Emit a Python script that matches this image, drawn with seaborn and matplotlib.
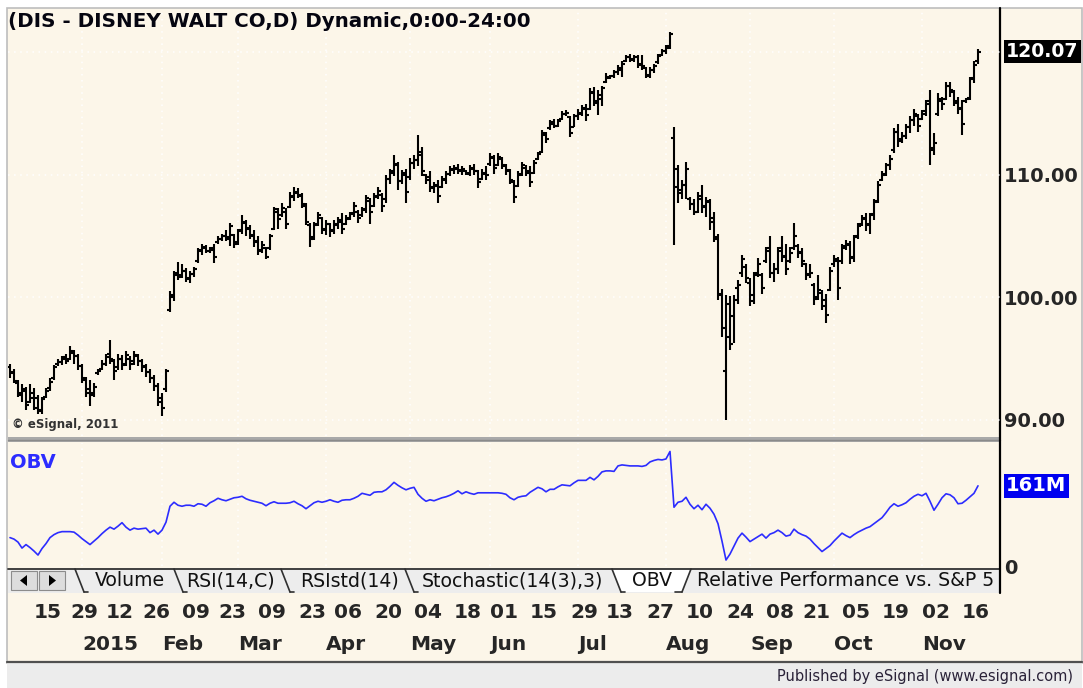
import numpy as np
import pandas as pd
import matplotlib
matplotlib.use("Agg")
import matplotlib.pyplot as plt
import matplotlib.transforms as mtransforms
from matplotlib.patches import Rectangle, Polygon
import seaborn as sns

sns.set_theme(style="white")
plt.rcParams["font.family"] = ["DejaVu Sans"]

# ---- data (DIS daily, Dec 2014 - Nov 2015) ----
last_day = "2015-11-20"
holidays = ["2014-12-25", "2015-01-01", "2015-01-19", "2015-02-16", "2015-04-03",
            "2015-05-25", "2015-07-03", "2015-09-07", "2015-11-26"]

highs = [94.6, 94.2, 93.3, 92.9, 92.7, 92.9, 92.6, 92.0, 91.9, 92.6, 93.4, 94.5, 95.0, 95.2, 95.4, 96.0,
         95.7, 95.4, 94.6, 93.5, 93.3, 93.0, 94.2, 94.9, 95.4, 96.5, 95.0, 95.4, 95.3, 95.6, 95.2, 95.6,
         95.4, 95.0, 94.6, 94.2, 93.7, 93.0, 92.2, 94.2,
         100.5, 102.2, 102.9, 102.7, 102.4, 102.2, 102.5, 104.0, 104.4, 104.3, 104.1, 104.4, 105.0, 105.2,
         105.5, 106.1, 105.2, 105.6, 106.7, 106.3, 105.9, 105.5, 105.0, 104.6, 104.1, 105.2, 107.4, 107.3,
         107.7, 107.3, 108.6, 109.0, 108.9, 108.5, 107.7, 106.1, 106.2, 107.0, 106.6, 106.3, 106.1, 106.3,
         106.6, 106.9, 106.7, 107.0, 107.8, 107.1, 107.4, 108.4, 108.1, 108.5, 109.0, 108.5, 110.0, 110.5,
         111.6, 111.1, 110.4, 110.5, 111.4, 111.6, 113.3, 112.3, 110.1, 110.3, 109.4, 109.6, 109.9, 110.3,
         110.7, 110.8, 110.9, 110.7, 110.4, 110.8, 110.9, 110.4, 110.5, 110.7, 111.8, 111.6, 111.8, 111.5,
         110.9, 110.5, 109.6, 110.3, 111.1, 110.8, 110.7, 111.2, 111.9, 113.7, 113.5, 114.5, 114.6, 114.6,
         115.2, 115.3, 114.8, 115.0, 115.4, 115.7, 115.8, 117.1, 117.2, 116.9, 117.3, 118.3, 118.2, 118.6,
         119.0, 119.3, 119.8, 119.9, 119.8, 119.8, 119.8, 118.8, 118.8, 119.1, 119.9, 120.3, 120.6, 121.7,
         113.9, 110.8, 109.6, 111.1, 108.2, 108.0, 108.6, 109.2, 108.2, 108.0, 107.0, 105.2, 100.7, 100.2,
         100.1, 100.2, 101.4, 103.5, 102.7, 101.6, 102.1, 103.2, 102.0, 104.1, 105.0, 102.8, 104.1, 105.0,
         104.4, 104.1, 106.1, 104.4, 104.0, 102.8, 102.7, 101.2, 101.8, 100.6, 100.3, 102.5, 103.5, 103.3,
         104.4, 104.7, 104.6, 105.1, 106.1, 106.7, 106.9, 106.9, 108.0, 109.5, 110.3, 111.0, 111.6, 113.8,
         114.2, 113.5, 114.2, 114.8, 115.4, 115.0, 115.3, 116.1, 116.9, 113.4, 116.7, 116.4, 117.6, 117.6,
         116.9, 116.4, 116.1, 116.3, 118.0, 119.3, 120.3]

lows = [93.4, 93.0, 91.9, 91.5, 90.8, 91.4, 90.8, 90.5, 90.5, 91.8, 92.4, 93.3, 94.4, 94.5, 94.6, 94.9,
        94.6, 94.1, 93.0, 91.9, 91.1, 91.9, 93.7, 94.1, 94.4, 94.6, 93.3, 94.1, 94.1, 94.4, 94.1, 94.5,
        94.4, 93.9, 93.5, 93.0, 92.4, 91.1, 90.3, 92.3,
        98.8, 99.7, 101.4, 101.6, 101.3, 101.2, 101.7, 102.8, 103.5, 103.6, 103.6, 102.8, 104.4, 104.6,
        104.6, 104.2, 104.0, 104.3, 105.2, 105.0, 104.8, 104.1, 103.5, 103.6, 103.1, 103.9, 105.5, 105.6,
        106.6, 105.6, 107.3, 107.9, 108.1, 107.3, 105.9, 104.1, 104.7, 105.8, 105.2, 105.1, 104.9, 105.2,
        105.6, 105.2, 105.9, 106.3, 106.6, 106.1, 106.6, 106.9, 106.0, 107.4, 108.0, 107.0, 107.7, 109.3,
        109.9, 108.8, 109.3, 107.7, 109.6, 110.5, 110.7, 109.9, 109.3, 108.6, 108.5, 107.7, 108.9, 109.3,
        109.9, 110.1, 110.1, 110.0, 110.0, 109.9, 110.0, 108.9, 109.6, 109.6, 110.7, 110.1, 110.7, 110.5,
        110.0, 109.3, 107.7, 109.0, 109.9, 109.9, 109.0, 110.1, 111.2, 111.8, 112.6, 113.7, 113.8, 113.9,
        114.5, 114.8, 113.1, 113.9, 114.5, 114.8, 114.4, 115.3, 115.6, 114.9, 115.6, 117.5, 117.8, 117.9,
        118.2, 118.0, 119.2, 119.2, 119.2, 118.7, 118.6, 117.9, 117.9, 118.3, 119.1, 119.7, 119.9, 120.3,
        104.3, 107.7, 108.0, 108.0, 107.1, 106.7, 106.9, 106.9, 106.6, 105.5, 104.5, 99.8, 96.8, 90.0,
        95.7, 96.3, 99.5, 101.7, 101.2, 99.3, 99.5, 101.7, 100.3, 102.8, 101.6, 101.3, 101.9, 102.9,
        101.8, 102.8, 103.9, 103.2, 102.5, 101.4, 101.6, 99.4, 99.8, 99.0, 97.9, 100.5, 102.5, 99.8,
        102.7, 103.9, 102.7, 102.9, 104.8, 105.8, 105.4, 105.2, 106.3, 107.7, 109.5, 109.9, 110.4, 111.8,
        112.3, 112.6, 112.9, 113.4, 114.0, 113.5, 114.5, 114.8, 110.8, 111.6, 114.8, 115.3, 116.1, 116.4,
        115.6, 115.0, 113.3, 115.9, 116.1, 117.5, 119.1]

opens = [94.3, 93.9, 93.0, 92.0, 92.5, 91.5, 92.2, 91.8, 90.7, 91.9, 92.6, 93.4, 94.6, 94.7, 95.1, 95.0,
         95.5, 95.2, 94.4, 93.3, 92.5, 92.2, 93.8, 94.2, 94.6, 95.4, 94.8, 94.3, 95.0, 94.6, 95.0, 94.8,
         95.2, 94.8, 94.4, 93.9, 93.4, 92.8, 91.8, 92.5,
         99.0, 100.0, 102.0, 101.8, 102.2, 101.5, 101.9, 103.0, 103.9, 104.1, 103.8, 103.9, 104.5, 104.8,
         105.0, 104.8, 105.1, 104.5, 105.5, 106.1, 105.7, 105.1, 104.6, 103.9, 104.0, 104.0, 105.6, 107.0,
         106.7, 107.0, 107.4, 108.2, 108.6, 108.3, 107.5, 105.9, 104.9, 106.0, 106.5, 105.5, 106.0, 105.5,
         105.9, 106.3, 106.0, 106.5, 106.9, 107.0, 106.7, 107.1, 107.9, 107.5, 108.3, 108.4, 108.0, 109.7,
         110.3, 110.9, 109.5, 110.2, 109.8, 111.0, 111.2, 111.9, 110.0, 109.8, 109.0, 109.2, 109.0, 109.6,
         110.1, 110.4, 110.5, 110.3, 110.3, 110.1, 110.5, 110.3, 109.7, 110.1, 110.9, 111.4, 110.8, 111.3,
         110.7, 110.4, 109.4, 109.1, 110.1, 110.6, 110.3, 110.2, 111.3, 111.9, 113.3, 113.8, 114.2, 114.0,
         114.6, 115.0, 114.7, 113.9, 114.8, 115.0, 115.5, 115.4, 116.7, 116.0, 116.2, 117.6, 117.9, 118.1,
         118.4, 118.6, 119.3, 119.6, 119.4, 119.6, 119.1, 118.7, 118.1, 118.6, 119.2, 119.8, 120.1, 120.5,
         113.0, 109.0, 108.8, 109.2, 108.0, 107.6, 107.0, 108.0, 107.5, 107.8, 106.5, 104.9, 100.2, 94.0,
         99.5, 98.5, 100.8, 102.0, 102.5, 101.2, 100.2, 102.0, 101.8, 103.0, 104.0, 102.0, 102.3, 104.0,
         103.3, 103.0, 104.0, 104.2, 103.7, 102.7, 101.8, 101.0, 100.0, 100.4, 99.8, 100.6, 102.7, 103.0,
         103.0, 104.2, 104.3, 103.3, 105.0, 106.0, 106.4, 106.0, 106.8, 107.9, 109.6, 110.1, 110.8, 112.0,
         113.5, 112.9, 113.2, 113.9, 114.5, 114.8, 114.6, 115.2, 116.0, 112.2, 115.0, 116.0, 116.2, 117.3,
         116.8, 116.0, 115.5, 116.0, 116.3, 117.9, 119.3]

closes = [93.8, 93.2, 92.2, 92.4, 91.2, 91.8, 91.0, 90.8, 91.7, 92.4, 93.1, 94.3, 94.7, 95.0, 94.8, 95.6,
          95.2, 94.4, 93.4, 92.2, 92.0, 92.7, 94.0, 94.6, 95.1, 95.0, 94.0, 95.0, 94.5, 95.3, 94.6, 95.3,
          94.8, 94.3, 93.9, 93.4, 92.8, 91.5, 91.0, 94.0,
          100.2, 101.8, 101.7, 102.2, 101.6, 101.9, 102.3, 103.8, 104.0, 103.8, 104.0, 103.3, 104.8, 105.0,
          104.9, 105.8, 104.4, 105.4, 106.2, 105.6, 105.0, 104.5, 103.8, 104.3, 103.3, 105.0, 107.2, 106.4,
          107.3, 106.0, 108.3, 108.5, 108.4, 107.6, 106.2, 104.8, 105.9, 106.7, 105.6, 106.0, 105.4, 106.0,
          106.2, 105.6, 106.4, 106.8, 107.5, 106.5, 107.2, 108.1, 107.0, 108.2, 108.7, 107.5, 109.7, 110.2,
          110.8, 109.5, 110.0, 108.6, 111.0, 111.2, 111.6, 110.3, 109.6, 108.9, 109.1, 108.3, 109.7, 110.1,
          110.5, 110.6, 110.4, 110.5, 110.2, 110.6, 110.3, 109.4, 110.2, 110.0, 111.5, 110.6, 111.5, 110.8,
          110.3, 109.6, 108.2, 110.0, 110.8, 110.2, 109.4, 111.0, 111.7, 113.4, 112.9, 114.3, 114.0, 114.4,
          115.0, 115.1, 113.4, 114.8, 115.1, 115.4, 114.9, 116.8, 115.9, 116.5, 117.1, 118.0, 118.1, 118.4,
          118.7, 119.1, 119.6, 119.5, 119.6, 119.0, 118.9, 118.2, 118.6, 118.9, 119.7, 120.1, 120.4, 121.5,
          110.5, 108.5, 109.2, 110.5, 107.6, 107.0, 108.3, 107.4, 107.9, 106.2, 104.8, 100.3, 97.5, 96.8,
          96.2, 99.8, 101.0, 103.1, 101.6, 99.7, 101.8, 102.7, 100.8, 103.8, 102.0, 102.3, 103.8, 103.4,
          102.3, 103.6, 105.0, 103.6, 103.0, 101.9, 102.0, 99.9, 100.6, 99.3, 98.6, 102.2, 103.1, 100.8,
          104.0, 104.4, 103.2, 104.9, 105.8, 106.5, 105.9, 106.7, 107.8, 109.2, 110.0, 110.8, 111.3, 113.5,
          112.8, 113.2, 113.9, 114.5, 115.0, 114.0, 115.0, 115.8, 112.0, 112.6, 116.2, 115.8, 117.3, 116.9,
          115.9, 115.4, 114.2, 116.2, 117.8, 119.0, 120.07]

# on balance volume, millions of shares
obv_m = [57, 54, 48, 36, 43, 37, 30, 22, 35, 45, 57, 63, 67, 69, 69, 69, 68, 62, 55, 49, 43, 50, 57, 65,
         72, 78, 74, 80, 87, 78, 72, 76, 74, 75, 76, 67, 72, 64, 72, 88,
         120, 128, 122, 120, 122, 122, 120, 125, 124, 120, 127, 131, 136, 133, 131, 134, 137, 138, 140, 135,
         132, 130, 128, 126, 121, 126, 129, 126, 126, 126, 127, 130, 125, 121, 115, 121, 127, 130, 128, 130,
         133, 130, 128, 132, 133, 133, 136, 140, 146, 144, 142, 148, 149, 149, 153, 160, 168, 162, 157, 153,
         156, 158, 144, 136, 130, 133, 131, 134, 137, 139, 142, 146, 151, 145, 149, 146, 144, 147, 147, 147,
         147, 147, 147, 146, 144, 137, 133, 138, 140, 141, 148, 153, 158, 155, 149, 154, 154, 159, 163, 162,
         161, 167, 172, 172, 172, 178, 173, 180, 189, 191, 191, 190, 201, 203, 202, 201, 201, 201, 200, 202,
         209, 212, 214, 213, 215, 230,
         118, 128, 130, 138, 124, 115, 122, 113, 124, 116, 104, 85, 50, 12, 24, 40, 56, 66, 58, 49, 54, 59,
         64, 56, 64, 67, 72, 67, 60, 62, 74, 67, 63, 60, 54, 45, 37, 29, 35, 41, 50, 58, 66, 61, 57, 63,
         68, 72, 76, 79, 85, 91, 97, 107, 118, 125, 120, 123, 127, 134, 140, 144, 141, 146, 130, 112, 124,
         137, 145, 143, 137, 125, 126, 132, 139, 146, 161]

day_ticks = ["2014-12-15", "2014-12-29", "2015-01-12", "2015-01-26", "2015-02-09", "2015-02-23",
             "2015-03-09", "2015-03-23", "2015-04-06", "2015-04-20", "2015-05-04", "2015-05-18",
             "2015-06-01", "2015-06-15", "2015-06-29", "2015-07-13", "2015-07-27", "2015-08-10",
             "2015-08-24", "2015-09-08", "2015-09-21", "2015-10-05", "2015-10-19", "2015-11-02",
             "2015-11-16"]
price_ticks = [90, 100, 110]
# last tab is cut off by the price scale in the original
tab_names = ["Volume", "RSI(14,C)", "RSIstd(14)", "Stochastic(14(3),3)", "OBV",
             "Relative Performance vs. S&P 5"]
title = "(DIS - DISNEY WALT CO,D) Dynamic,0:00-24:00"

cbd = pd.offsets.CustomBusinessDay(holidays=holidays)
dates = pd.date_range(end=last_day, periods=len(closes), freq=cbd)
df = pd.DataFrame({"date": dates, "open": opens, "high": highs, "low": lows,
                   "close": closes, "obv": obv_m})
df["bar"] = np.arange(len(df))
bar_of = df.set_index("date")["bar"]

CREAM = "#FCF6E9"
W, H = 1083, 688
fig = plt.figure(figsize=(W / 100, H / 100), dpi=100)
fig.patch.set_facecolor("white")


def fbox(x0, y0, x1, y1):
    # pixel box (top-left origin) -> figure fraction rect
    return [x0 / W, 1 - y1 / H, (x1 - x0) / W, (y1 - y0) / H]


# chrome layer in pixel units
bg = fig.add_axes([0, 0, 1, 1], zorder=-5)
bg.set_xlim(0, W)
bg.set_ylim(H, 0)
bg.axis("off")
bg.add_patch(Rectangle((7, 8), 1075, 655, facecolor=CREAM, edgecolor="#BDBDBD", lw=1.2))
bg.add_patch(Rectangle((7, 663), 1075, 25, facecolor="#ECECEC", edgecolor="none"))
bg.plot([7, 1082], [662, 662], color="#505050", lw=1.6)
bg.add_patch(Rectangle((8, 437), 992, 5, facecolor="#A9A9A9", edgecolor="none"))
bg.plot([8, 1000], [439.5, 439.5], color="#8A8A8A", lw=1)
# tab strip
bg.add_patch(Rectangle((8, 568), 992, 25, facecolor="#EDEDED", edgecolor="none"))
bg.plot([8, 1000], [568.5, 568.5], color="#404040", lw=1.4)
for bx, mark in [(11, "<"), (39, ">")]:
    bg.add_patch(Rectangle((bx, 571), 26, 19, facecolor="#DDDDDD", edgecolor="#8C8C8C", lw=0.8))
    tri = [(bx + 9, 580.5), (bx + 16, 575), (bx + 16, 586)] if mark == "<" else \
          [(bx + 17, 580.5), (bx + 10, 575), (bx + 10, 586)]
    bg.add_patch(Polygon(tri, closed=True, facecolor="black", edgecolor="none"))
bg.add_patch(Polygon([(612, 569), (621, 592), (682, 592), (691, 569)], closed=True,
                     facecolor="white", edgecolor="none"))
for sx in [75, 174, 281, 405, 612]:
    bg.plot([sx, sx + 9], [569, 592], color="#303030", lw=1.2)
    bg.plot([sx + 9, sx + 13], [592, 592], color="#303030", lw=1.2)
bg.plot([682, 691], [592, 569], color="#303030", lw=1.2)
bg.plot([675, 682], [592, 592], color="#303030", lw=1.2)
tab_x = [95, 186, 300, 422, 632, 697]
clip_box = mtransforms.TransformedBbox(mtransforms.Bbox([[8, 560], [997, 600]]), bg.transData)
for name, tx in zip(tab_names, tab_x):
    t = bg.text(tx, 581, name, fontsize=13.6, va="center", ha="left", color="#111111",
                clip_on=True)
    t.set_clip_box(clip_box)
bg.plot([1000, 1000], [8, 593], color="black", lw=1.6)
bg.text(1073, 676, "Published by eSignal (www.esignal.com)", fontsize=10.5, ha="right",
        va="center", color="#2A2238")

# price panel
ax = fig.add_axes(fbox(8, 9, 1000, 436))
ax.set_facecolor("none")
ax.vlines(df["bar"], df["low"], df["high"], color="black", lw=1.5)
ax.hlines(df["open"], df["bar"] - 0.7, df["bar"], color="black", lw=1.5)
ax.hlines(df["close"], df["bar"], df["bar"] + 0.7, color="black", lw=1.5)
ax.set_xlim(-0.5, 247.5)
ax.set_ylim(88.69, 123.55)

month_first = df.groupby(df["date"].dt.to_period("M"))["bar"].first()
month_first = month_first[month_first.index >= pd.Period("2015-01", "M")]
for b in month_first.values:
    ax.axvline(b, color="white", lw=1.1, ls=(0, (1, 3)), zorder=0)
for p in price_ticks + [120]:
    ax.axhline(p, color="white", lw=1.1, ls=(0, (1, 3)), zorder=0)

ax.yaxis.tick_right()
ax.set_yticks(price_ticks)
ax.set_yticklabels([f"{p:.2f}" for p in price_ticks], fontsize=14, fontweight="bold", ha="left")
ax.tick_params(axis="y", length=0, pad=3)
ax.set_xticks([])
for s in ax.spines.values():
    s.set_visible(False)
ax.text(0.0, 0.9696, title, transform=ax.transAxes, fontsize=14.3, fontweight="bold",
        va="center", ha="left", color="#050510")
ax.text(0.004, 0.028, "\u00a9 eSignal, 2011", transform=ax.transAxes, fontsize=8.5,
        fontweight="bold", va="center", ha="left", color="#333333")
last = df.iloc[-1]
tr = mtransforms.blended_transform_factory(ax.transAxes, ax.transData)
ax.text(1.006, last["close"], f"{last['close']:.2f}", transform=tr, fontsize=13.6,
        fontweight="bold", color="white", va="center", ha="left", clip_on=False,
        bbox=dict(boxstyle="square,pad=0.12", facecolor="black", edgecolor="none"))

# OBV panel
axo = fig.add_axes(fbox(8, 443, 1000, 566), sharex=ax)
axo.set_facecolor("none")
sns.lineplot(data=df, x="bar", y="obv", ax=axo, color="#2C2CFF", lw=1.2)
axo.set_ylim(0, 247)
for b in month_first.values:
    axo.axvline(b, color="white", lw=1.1, ls=(0, (1, 3)), zorder=0)
axo.yaxis.tick_right()
axo.set_yticks([0])
axo.set_yticklabels(["0"], fontsize=14, fontweight="bold", ha="left")
axo.tick_params(axis="y", length=0, pad=3)
axo.tick_params(axis="x", length=0, labelbottom=False)
axo.set_xlabel("")
axo.set_ylabel("")
for s in axo.spines.values():
    s.set_visible(False)
axo.text(0.002, 0.84, "OBV", transform=axo.transAxes, fontsize=14, fontweight="bold",
         color="#2C2CFF", va="center", ha="left")
tro = mtransforms.blended_transform_factory(axo.transAxes, axo.transData)
axo.text(1.006, last["obv"], f"{last['obv']:.0f}M", transform=tro, fontsize=14,
         fontweight="bold", color="white", va="center", ha="left", clip_on=False,
         bbox=dict(boxstyle="square,pad=0.12", facecolor="#0000F0", edgecolor="none"))

# date axis
axd = fig.add_axes(fbox(8, 594, 1000, 661), sharex=ax)
axd.set_facecolor("none")
axd.axis("off")
for d in day_ticks:
    b = bar_of[pd.Timestamp(d)]
    axd.text(b, 0.72, pd.Timestamp(d).strftime("%d"), fontsize=14.5, fontweight="bold",
             ha="left", va="center", transform=axd.get_xaxis_transform())
for per, b in month_first.items():
    lab = "2015" if per.month == 1 else per.strftime("%b")
    axd.text(b, 0.24, lab, fontsize=14.5, fontweight="bold", ha="left", va="center",
             transform=axd.get_xaxis_transform())

fig.savefig("out.png", dpi=100, facecolor=fig.get_facecolor())
